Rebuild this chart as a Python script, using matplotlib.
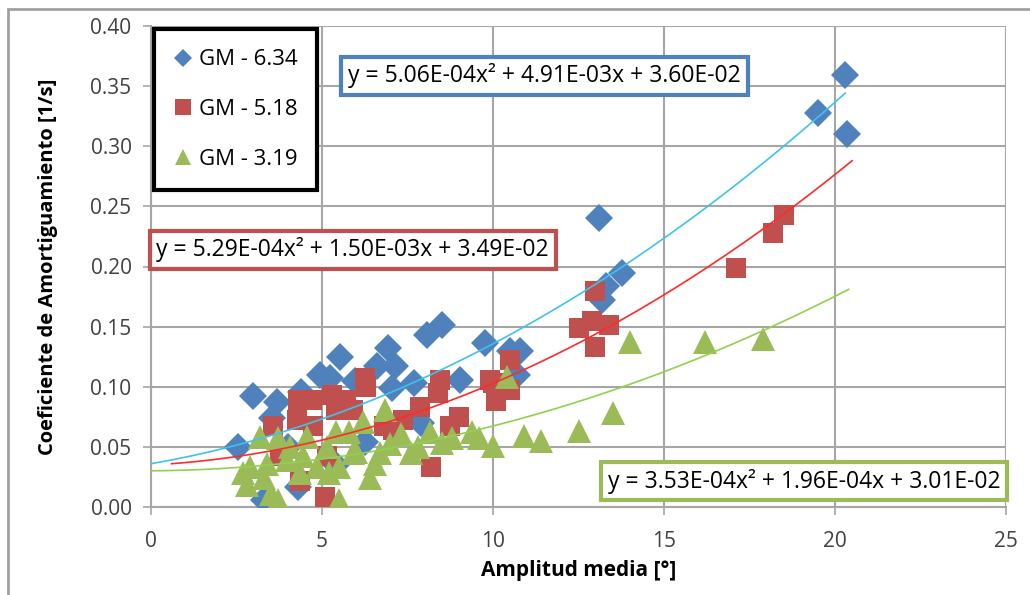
import numpy as np
import matplotlib.pyplot as plt
from matplotlib.lines import Line2D
from matplotlib.patches import Rectangle

plt.rcParams['font.family'] = ['Open Sans', 'DejaVu Sans']

# GM - 6.34 (rombos azules)
x_634 = [2.55, 2.98, 3.3, 3.54, 3.68, 4.0, 4.3, 4.4, 4.94, 5.23, 5.4, 5.53, 5.96,
         6.26, 6.6, 6.93, 7.05, 7.13, 7.7, 7.9, 8.07, 8.5, 9.03, 9.77, 10.5, 10.7,
         10.8, 13.1, 13.2, 13.3, 13.76, 19.5, 20.3, 20.35]
y_634 = [0.050, 0.092, 0.006, 0.074, 0.087, 0.050, 0.017, 0.096, 0.110, 0.107, 0.035, 0.125, 0.105,
         0.054, 0.117, 0.132, 0.099, 0.117, 0.103, 0.070, 0.143, 0.151, 0.106, 0.136, 0.130, 0.110,
         0.130, 0.240, 0.172, 0.184, 0.195, 0.328, 0.359, 0.310]

# GM - 5.18 (cuadrados rojos)
x_518 = [3.57, 3.77, 4.27, 4.3, 4.36, 4.7, 4.74, 5.1, 5.15, 5.3, 5.4, 5.7, 5.9,
         6.27, 6.3, 6.8, 7.08, 7.37, 7.87, 8.2, 8.4, 8.45, 8.75, 9.0, 9.9, 10.0,
         10.1, 10.5, 10.5, 12.5, 12.9, 12.97, 12.97, 13.4, 17.1, 18.2, 18.5]
y_518 = [0.067, 0.042, 0.072, 0.089, 0.022, 0.089, 0.067, 0.008, 0.042, 0.093, 0.081, 0.089, 0.081,
         0.107, 0.100, 0.067, 0.064, 0.072, 0.083, 0.033, 0.095, 0.106, 0.067, 0.075, 0.106, 0.103,
         0.088, 0.122, 0.097, 0.149, 0.155, 0.180, 0.133, 0.151, 0.199, 0.228, 0.243]

# GM - 3.19 (triangulos verdes)
x_319 = [2.7, 2.8, 2.9, 3.2, 3.3, 3.4, 3.5, 3.7, 3.7, 3.97, 4.07, 4.36, 4.45, 4.56,
         4.85, 5.15, 5.2, 5.4, 5.5, 5.5, 5.8, 5.9, 6.0, 6.2, 6.4, 6.55, 6.7, 6.85,
         7.0, 7.3, 7.6, 7.8, 8.16, 8.5, 8.8, 9.4, 9.6, 10.0, 10.4, 10.9, 11.4, 12.5,
         13.5, 14.0, 16.2, 17.9]
y_319 = [0.028, 0.018, 0.033, 0.058, 0.024, 0.036, 0.011, 0.006, 0.057, 0.039, 0.050, 0.028, 0.042, 0.058,
         0.033, 0.050, 0.028, 0.062, 0.006, 0.033, 0.062, 0.045, 0.046, 0.071, 0.024, 0.036, 0.045, 0.081,
         0.052, 0.061, 0.045, 0.050, 0.062, 0.053, 0.057, 0.062, 0.057, 0.051, 0.108, 0.059, 0.055, 0.063,
         0.078, 0.137, 0.137, 0.140]

# coeficientes de las lineas de tendencia (polinomio de grado 2)
coef_634 = [5.06e-04, 4.91e-03, 3.60e-02]
coef_518 = [5.29e-04, 1.50e-03, 3.49e-02]
coef_319 = [3.53e-04, 1.96e-04, 3.01e-02]

azul, rojo, verde = '#4F81BD', '#C0504D', '#9BBB59'

fig = plt.figure(figsize=(10.3, 5.95), dpi=100)
ax = fig.add_axes([151 / 1030, 88 / 595, 855 / 1030, 481 / 595])

ax.plot(x_634, y_634, 'D', color=azul, ms=14, mew=0, zorder=3)
ax.plot(x_518, y_518, 's', color=rojo, ms=15, mew=0, zorder=3)
ax.plot(x_319, y_319, '^', color=verde, ms=17, mew=0, zorder=3)

# lineas de tendencia
xs = np.linspace(0, 20.3, 200)
ax.plot(xs, np.polyval(coef_634, xs), color='#3EC3EA', lw=1.2, zorder=4)
xs = np.linspace(0.6, 20.5, 200)
ax.plot(xs, np.polyval(coef_518, xs), color='#FF2A2A', lw=1.2, zorder=4)
xs = np.linspace(0, 20.4, 200)
ax.plot(xs, np.polyval(coef_319, xs), color='#92D050', lw=1.2, zorder=4)

ax.set_xlim(0, 25)
ax.set_ylim(0, 0.40)
ax.set_xticks(np.arange(0, 26, 5))
ax.set_yticks(np.arange(0, 0.41, 0.05))
ax.yaxis.set_major_formatter(plt.FormatStrFormatter('%.2f'))
ax.grid(True, color='#A6A6A6', lw=1.5)
ax.set_axisbelow(True)
for s in ['top', 'right']:
    ax.spines[s].set_visible(False)
for s in ['left', 'bottom']:
    ax.spines[s].set_color('#A6A6A6')
    ax.spines[s].set_linewidth(1.5)
ax.tick_params(labelsize=15, colors='#404040', length=6, width=1.2, pad=8)
ax.tick_params(axis='x', pad=11)
ax.tick_params(axis='both', color='#A6A6A6')

ax.set_xlabel('Amplitud media [°]', fontsize=15, fontweight='bold', labelpad=6)
ax.set_ylabel('Coeficiente de Amortiguamiento [1/s]', fontsize=14.5, fontweight='bold', labelpad=23)

# ecuaciones
caja = dict(boxstyle='square,pad=0.3', fc='white', lw=3)
ax.text(11.5, 0.3585, 'y = 5.06E-04x² + 4.91E-03x + 3.60E-02', fontsize=16.5,
        ha='center', va='center', bbox=dict(caja, ec=azul), zorder=6)
ax.text(5.9, 0.2138, 'y = 5.29E-04x² + 1.50E-03x + 3.49E-02', fontsize=16.5,
        ha='center', va='center', bbox=dict(caja, ec=rojo), zorder=6)
ax.text(19.1, 0.0216, 'y = 3.53E-04x² + 1.96E-04x + 3.01E-02', fontsize=16.5,
        ha='center', va='center', bbox=dict(caja, ec=verde), zorder=6)

handles = [
    Line2D([], [], ls='none', marker='D', color=azul, ms=9, mew=0),
    Line2D([], [], ls='none', marker='s', color=rojo, ms=11, mew=0),
    Line2D([], [], ls='none', marker='^', color=verde, ms=12, mew=0),
]
leg = ax.legend(handles, ['GM - 6.34', 'GM - 5.18', 'GM - 3.19'], loc='upper left',
                bbox_to_anchor=(0, 1), borderaxespad=0.15, fontsize=16, labelspacing=1.3,
                handlelength=0.8, handletextpad=0.3, borderpad=0.9, fancybox=False,
                framealpha=1, edgecolor='black')
leg.get_frame().set_linewidth(3)
leg.set_zorder(7)

# marco exterior del grafico
fig.patches.append(Rectangle((8 / 1030, -0.05), 1.2, 1 - 9 / 595 + 0.05, transform=fig.transFigure,
                             fill=False, ec='#A0A0A0', lw=2))

fig.savefig('out.png', dpi=100)
